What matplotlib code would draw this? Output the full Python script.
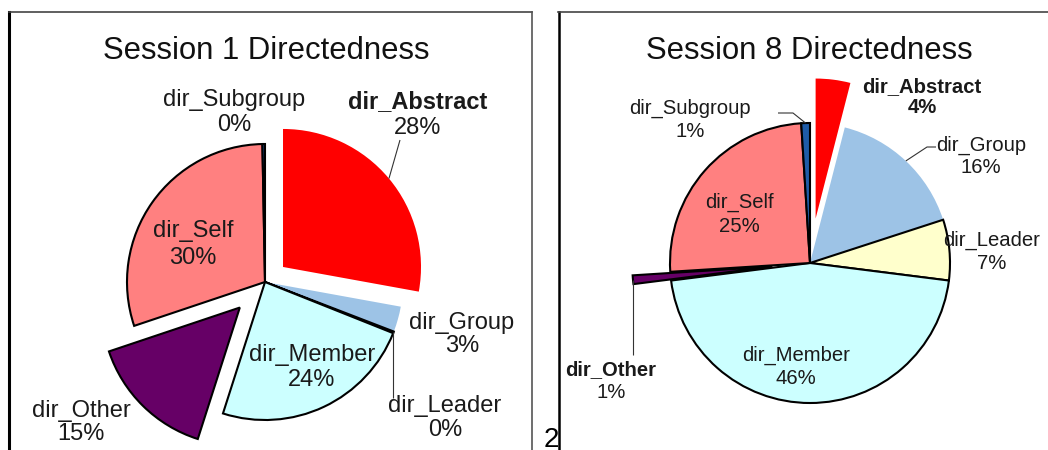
import numpy as np
import matplotlib
matplotlib.use("Agg")
import matplotlib.pyplot as plt

# canvas size in pixels, layout below is given in image pixels (y down)
W, H = 1048, 450

# --- Data ---
categories = ["dir_Abstract", "dir_Group", "dir_Leader", "dir_Member",
              "dir_Other", "dir_Self", "dir_Subgroup"]
session1_values = [28, 3, 0.2, 24, 15, 30, 0.3]
session8_values = [4, 16, 7, 46, 1, 25, 1]

# --- Style ---
slice_colors = ["#FF0000", "#9DC3E6", "#FFFFCC", "#CCFFFF",
                "#660066", "#FF8080", "#1F5CA8"]
slice_edges = ["none", "none", "black", "black", "black", "black", "black"]
TEXT = "#1a1a1a"

plt.rcParams["font.family"] = ["Liberation Sans", "DejaVu Sans"]


def pct_labels(values):
    total = sum(values)
    return [f"{round(v / total * 100)}%" for v in values]


def wedge_point(w, frac=1.0):
    """Point on the bisector of a wedge, frac * radius from its centre."""
    ang = np.deg2rad((w.theta1 + w.theta2) / 2)
    cx, cy = w.center
    return cx + frac * w.r * np.cos(ang), cy + frac * w.r * np.sin(ang)


def draw_session(ax, values, title, title_x, center, radius, explode,
                 label_pos, bold, size, leaders):
    cx, cy = center
    # pie's explode is an absolute offset, so scale it by the radius
    wedges, _ = ax.pie(values, colors=slice_colors,
                       explode=[e * radius for e in explode],
                       startangle=90, counterclock=False,
                       radius=radius, center=(cx, H - cy))
    for w, ec in zip(wedges, slice_edges):
        w.set_edgecolor(ec)
        w.set_linewidth(1.5)
        w.set_joinstyle("miter")

    ax.text(title_x, H - 59, title, ha="center", va="baseline",
            fontsize=22.3, color="#111111")

    for i, (name, pct) in enumerate(zip(categories, pct_labels(values))):
        x, y_name, y_pct = label_pos[i]
        b_name, b_pct = bold.get(i, (False, False))
        ax.text(x, H - y_name, name, ha="center", va="baseline",
                fontsize=size, color=TEXT,
                fontweight="bold" if b_name else "normal")
        ax.text(x, H - y_pct, pct, ha="center", va="baseline",
                fontsize=size, color=TEXT,
                fontweight="bold" if b_pct else "normal")

    for i, pts in leaders.items():
        x0, y0 = wedge_point(wedges[i])
        xs, ys = [x0], [y0]
        for px, py in pts:
            xs.append(xs[-1] if px is None else px)
            ys.append(H - py)
        ax.plot(xs, ys, color="#333333", lw=0.8, solid_capstyle="butt")


fig = plt.figure(figsize=(W / 100, H / 100), dpi=100)
ax = fig.add_axes([0, 0, 1, 1])

draw_session(
    ax, session1_values, "Session 1 Directedness", 266,
    center=(265, 282), radius=138,
    explode=[0.17, 0, 0, 0, 0.26, 0, 0],
    label_pos=[(418, 108, 134), (462, 329, 352), (445, 412, 436),
               (312, 361, 386), (81, 417, 440), (193, 237, 264),
               (234, 106, 131)],
    bold={0: (True, False)},
    size=17,
    leaders={0: [(400, 140)], 2: [(None, 398)]},
)

draw_session(
    ax, session8_values, "Session 8 Directedness", 809,
    center=(810, 263), radius=140,
    explode=[0.32, 0, 0, 0, 0.27, 0, 0],
    label_pos=[(922, 92, 113), (981, 151, 173), (992, 246, 269),
               (796, 361, 384), (611, 375, 398), (739, 208, 232),
               (690, 114, 137)],
    bold={0: (True, True), 4: (True, False)},
    size=14.6,
    leaders={6: [(793, 113), (778, 113)], 1: [(927, 147), (936, 147)],
             4: [(None, 355)]},
)

# stray page number peeking out between the two panels
ax.text(544, H - 447, "2", ha="left", va="baseline", fontsize=20,
        color="black", zorder=1)

# panel frames (they run off the bottom/right of the crop)
ax.plot([9, 9], [0, H - 12], color="black", lw=2.2, zorder=5)
ax.plot([9, 532], [H - 12, H - 12], color="#444444", lw=1.2, zorder=5)
ax.plot([532, 532], [0, H - 12], color="#555555", lw=1.2, zorder=5)
ax.plot([558.5, 558.5], [0, H - 12], color="black", lw=1.8, zorder=5)
ax.plot([558, W], [H - 12, H - 12], color="#444444", lw=1.2, zorder=5)

ax.set_xlim(0, W)
ax.set_ylim(0, H)
ax.set_axis_off()

fig.savefig("out.png", dpi=100)
